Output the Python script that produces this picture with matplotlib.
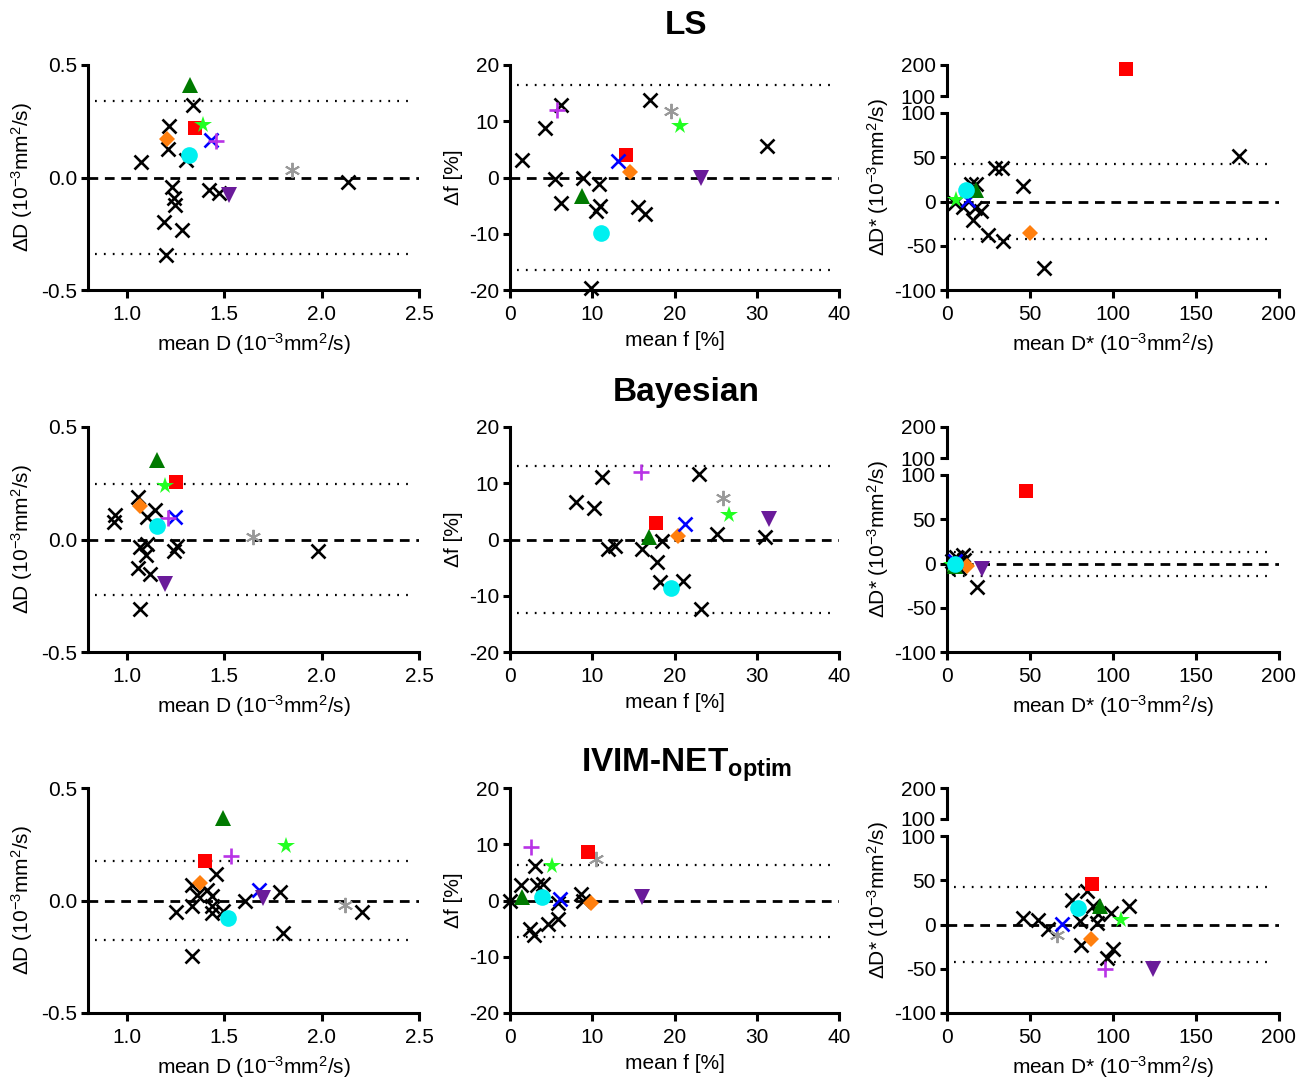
import numpy as np
import matplotlib
matplotlib.use('Agg')
import matplotlib.pyplot as plt

plt.rcParams['font.family'] = ['Liberation Sans', 'DejaVu Sans']
plt.rcParams['mathtext.fontset'] = 'custom'
plt.rcParams['mathtext.rm'] = 'Liberation Sans'
plt.rcParams['mathtext.it'] = 'Liberation Sans:italic'
plt.rcParams['mathtext.bf'] = 'Liberation Sans:bold'
plt.rcParams['axes.unicode_minus'] = False

# ---------------- DATA ----------------
# Special (coloured) subjects order:
# red square, green triangle, lime star, orange diamond, blue x, violet plus, cyan circle, grey asterisk, purple triangle-down
NAN = np.nan

# LS
LS_D_MEAN = [1.340, 1.215, 1.209, 1.301, 1.074, 2.134, 1.232, 1.240, 1.249, 1.421, 1.472, 1.189, 1.283, 1.203]
LS_D_DIFF = [0.322, 0.229, 0.125, 0.080, 0.070, -0.019, -0.042, -0.093, -0.123, -0.056, -0.071, -0.197, -0.234, -0.346]
LS_D_SP_MEAN = [1.352, 1.323, 1.392, 1.206, 1.430, 1.455, 1.318, 1.850, 1.524]
LS_D_SP_DIFF = [0.221, 0.411, 0.233, 0.169, 0.166, 0.163, 0.102, 0.033, -0.079]
LS_D_BIAS, LS_D_LOA = 0.0, 0.34

LS_F_MEAN = [6.26, 4.24, 1.41, 16.97, 31.3, 5.45, 8.9, 10.8, 6.2, 10.9, 10.5, 15.6, 16.4, 9.9]
LS_F_DIFF = [12.9, 8.8, 3.1, 13.7, 5.65, -0.3, 0.0, -1.2, -4.5, -5.1, -6.0, -5.2, -6.4, -19.6]
LS_F_SP_MEAN = [14.1, 8.8, 20.7, 14.6, 13.1, 5.74, 11.1, 19.6, 23.2]
LS_F_SP_DIFF = [4.0, -3.3, 9.1, 1.0, 3.0, 12.0, -9.8, 11.8, -0.1]
LS_F_BIAS, LS_F_LOA = 0.0, 16.5

LS_DS_MEAN = [176.0, 29.0, 33.0, 45.9, 14.7, 17.7, 4.6, 9.7, 16.7, 20.7, 15.7, 24.7, 33.8, 58.3]
LS_DS_DIFF = [51.0, 38.0, 38.0, 17.0, 20.0, 20.0, -2.0, -6.0, -7.5, -11.0, -21.0, -38.0, -44.5, -75.5]
LS_DS_SP_MEAN = [107.6, 17.7, 5.6, 50.3, 12.7, NAN, 11.7, NAN, NAN]
LS_DS_SP_DIFF = [187.0, 13.0, 2.0, -36.0, 2.0, NAN, 13.2, NAN, NAN]
LS_DS_BIAS, LS_DS_LOA = 0.0, 42.5

# Bayesian
BA_D_MEAN = [1.055, 1.146, 1.103, 0.940, 0.931, 1.979, 1.065, 1.103, 1.100, 1.258, 1.241, 1.055, 1.117, 1.069]
BA_D_DIFF = [0.188, 0.129, 0.099, 0.111, 0.077, -0.052, -0.034, -0.019, -0.071, -0.030, -0.052, -0.128, -0.153, -0.309]
BA_D_SP_MEAN = [1.254, 1.155, 1.198, 1.065, 1.249, 1.210, 1.155, 1.648, 1.198]
BA_D_SP_DIFF = [0.255, 0.352, 0.237, 0.151, 0.099, 0.096, 0.059, 0.010, -0.197]
BA_D_BIAS, BA_D_LOA = 0.0, 0.247

BA_F_MEAN = [11.2, 23.0, 8.0, 10.2, 25.2, 31.0, 11.9, 12.8, 16.0, 18.5, 17.9, 18.2, 21.0, 23.2]
BA_F_DIFF = [11.1, 11.7, 6.6, 5.6, 1.0, 0.4, -1.7, -1.2, -1.7, -0.3, -4.0, -7.6, -7.4, -12.3]
BA_F_SP_MEAN = [17.7, 16.9, 26.6, 20.4, 21.3, 15.9, 19.6, 25.9, 31.5]
BA_F_SP_DIFF = [3.0, 0.5, 4.4, 0.7, 2.8, 12.0, -8.6, 7.4, 3.7]
BA_F_BIAS, BA_F_LOA = 0.0, 13.0

BA_DS_MEAN = [3.0, 5.6, 9.7, 6.0, 8.0, 4.0, 10.0, 7.0, 5.0, 18.1]
BA_DS_DIFF = [3.0, 7.5, 9.4, -3.0, 2.0, -2.0, 4.0, -5.0, 1.0, -26.3]
BA_DS_SP_MEAN = [47.3, 5.0, 3.0, 12.1, 5.0, NAN, 4.6, NAN, 21.1]
BA_DS_SP_DIFF = [81.6, -3.0, -2.0, -2.6, 3.0, NAN, 0.0, NAN, -6.4]
BA_DS_BIAS, BA_DS_LOA = -0.3, 13.5

# IVIM-NET optim
NN_D_MEAN = [1.459, 1.332, 1.412, 1.438, 1.361, 1.335, 1.253, 1.438, 1.435, 1.493, 1.606, 1.785, 2.208, 1.799, 1.332]
NN_D_DIFF = [0.119, 0.070, 0.047, 0.018, 0.025, -0.024, -0.053, -0.024, -0.056, -0.045, 0.0, 0.040, -0.052, -0.145, -0.245]
NN_D_SP_MEAN = [1.399, 1.493, 1.816, 1.373, 1.679, 1.536, 1.519, 2.120, 1.701]
NN_D_SP_DIFF = [0.177, 0.367, 0.243, 0.077, 0.045, 0.196, -0.076, -0.019, 0.010]
NN_D_BIAS, NN_D_LOA = 0.0, 0.174

NN_F_MEAN = [3.04, 1.34, 3.24, 4.05, 0.0, 5.79, 8.6, 8.9, 5.87, 4.66, 2.43, 2.96]
NN_F_DIFF = [6.1, 2.7, 2.7, 2.9, 0.0, -0.5, 1.2, -0.1, -3.3, -4.2, -5.1, -6.1]
NN_F_SP_MEAN = [9.43, 1.42, 5.06, 9.9, 6.07, 2.55, 3.93, 10.4, 16.1]
NN_F_SP_DIFF = [8.6, 0.7, 6.1, -0.5, 0.3, 9.5, 0.7, 7.3, 0.6]
NN_F_BIAS, NN_F_LOA = 0.0, 6.4

NN_DS_MEAN = [84.5, 75.1, 88.1, 109.9, 98.6, 91.1, 45.9, 54.9, 61.0, 80.1, 90.5, 80.5, 100.2, 96.6]
NN_DS_DIFF = [37.6, 28.2, 20.7, 20.7, 13.2, 11.3, 7.5, 5.6, -5.6, 3.8, 1.9, -22.6, -28.2, -37.6]
NN_DS_SP_MEAN = [87.5, 92.2, 104.6, 86.7, 69.0, 95.2, 79.1, 66.0, 124.3]
NN_DS_SP_DIFF = [46.2, 20.7, 5.6, -16.2, 1.1, -50.0, 18.8, -12.4, -50.8]
NN_DS_BIAS, NN_DS_LOA = 0.0, 42.5

ROW_TITLES = ['LS', 'Bayesian', r'IVIM-NET$_{\mathbf{optim}}$']
D_TICKS = [1.0, 1.5, 2.0, 2.5]
D_YTICKS = [-0.5, 0.0, 0.5]
F_TICKS = [0, 10, 20, 30, 40]
F_YTICKS = [-20, -10, 0, 10, 20]
DS_XTICKS = [0, 50, 100, 150, 200]
DS_YTICKS = [-100, -50, 0, 50, 100]

# ---------------- STYLE ----------------
SP_STYLE = [
    dict(marker='s', color='#FF0000', ms=10, mew=0),
    dict(marker='^', color='#007A00', ms=11, mew=0),
    dict(marker='*', color='#22FF22', ms=13, mew=0),
    dict(marker='D', color='#FF7F0E', ms=8, mew=0),
    dict(marker='x', color='#0000FF', ms=10.5, mew=1.9),
    dict(marker='+', color='#B833E6', ms=12, mew=1.9),
    dict(marker='o', color='#00F0F0', ms=12, mew=0),
    dict(marker=(6, 2, 0), color='#999999', ms=11, mew=1.4),
    dict(marker='v', color='#6A1B9A', ms=11, mew=0),
]
DRAW_ORDER = [7, 0, 2, 3, 4, 5, 1, 8, 6]

W, H = 1309, 1078
fig = plt.figure(figsize=(W / 100, H / 100), dpi=100)

COLS = [(88, 419), (510, 839), (947, 1279)]
ROWS = [(65, 290), (427, 652), (788, 1013)]
TITLE_Y = [25, 392, 765]

LW = 2.2
TICK_FS = 15
LAB_FS = 15


def rect(l, r, t, b):
    return [l / W, 1 - b / H, (r - l) / W, (b - t) / H]


def style(ax):
    for s in ['top', 'right']:
        ax.spines[s].set_visible(False)
    for s in ['left', 'bottom']:
        ax.spines[s].set_linewidth(LW)
    ax.tick_params(width=LW, length=5, labelsize=TICK_FS, direction='out', pad=3)
    ax.tick_params(axis='x', length=6, pad=5)


def lines(ax, bias, loa):
    ax.axhline(bias, color='black', lw=2.0, ls=(0, (3.5, 2.4)), xmin=0.0, xmax=1.0, zorder=1)
    ax.axhline(bias + loa, color='black', lw=1.6, ls=(0, (0.8, 3.2)), xmin=0.02, xmax=0.98, zorder=1)
    ax.axhline(bias - loa, color='black', lw=1.6, ls=(0, (0.8, 3.2)), xmin=0.02, xmax=0.98, zorder=1)


def points(ax, xm, yd, spx, spy, ylim=None):
    xm = np.asarray(xm, float)
    yd = np.asarray(yd, float)
    ax.plot(xm, yd, ls='none', marker='x', color='black', ms=10.5, mew=1.9, clip_on=False, zorder=3)
    for i in DRAW_ORDER:
        x, y = spx[i], spy[i]
        if np.isnan(x) or np.isnan(y):
            continue
        if ylim is not None and not (ylim[0] <= y <= ylim[1]):
            continue
        st = SP_STYLE[i]
        ax.plot([x], [y], ls='none', marker=st['marker'], color=st['color'], ms=st['ms'],
                mew=st['mew'], clip_on=False, zorder=4)


D_LAB_X = 'mean D (10$^{-3}$mm$^{2}$/s)'
D_LAB_Y = '\u0394D (10$^{-3}$mm$^{2}$/s)'
F_LAB_X = 'mean f [%]'
F_LAB_Y = '\u0394f [%]'
DS_LAB_X = 'mean D* (10$^{-3}$mm$^{2}$/s)'
DS_LAB_Y = '\u0394D* (10$^{-3}$mm$^{2}$/s)'

D_DATA = [(LS_D_MEAN, LS_D_DIFF, LS_D_SP_MEAN, LS_D_SP_DIFF, LS_D_BIAS, LS_D_LOA),
          (BA_D_MEAN, BA_D_DIFF, BA_D_SP_MEAN, BA_D_SP_DIFF, BA_D_BIAS, BA_D_LOA),
          (NN_D_MEAN, NN_D_DIFF, NN_D_SP_MEAN, NN_D_SP_DIFF, NN_D_BIAS, NN_D_LOA)]
F_DATA = [(LS_F_MEAN, LS_F_DIFF, LS_F_SP_MEAN, LS_F_SP_DIFF, LS_F_BIAS, LS_F_LOA),
          (BA_F_MEAN, BA_F_DIFF, BA_F_SP_MEAN, BA_F_SP_DIFF, BA_F_BIAS, BA_F_LOA),
          (NN_F_MEAN, NN_F_DIFF, NN_F_SP_MEAN, NN_F_SP_DIFF, NN_F_BIAS, NN_F_LOA)]
DS_DATA = [(LS_DS_MEAN, LS_DS_DIFF, LS_DS_SP_MEAN, LS_DS_SP_DIFF, LS_DS_BIAS, LS_DS_LOA),
           (BA_DS_MEAN, BA_DS_DIFF, BA_DS_SP_MEAN, BA_DS_SP_DIFF, BA_DS_BIAS, BA_DS_LOA),
           (NN_DS_MEAN, NN_DS_DIFF, NN_DS_SP_MEAN, NN_DS_SP_DIFF, NN_DS_BIAS, NN_DS_LOA)]

for r, (top, bot) in enumerate(ROWS):
    fig.text(686 / W, 1 - TITLE_Y[r] / H, ROW_TITLES[r], fontsize=24, fontweight='bold',
             ha='center', va='center')

    # D panel
    xm, yd, spx, spy, bias, loa = D_DATA[r]
    ax = fig.add_axes(rect(COLS[0][0], COLS[0][1], top, bot))
    style(ax)
    ax.set_xlim(0.8, 2.5)
    ax.set_ylim(-0.5, 0.5)
    ax.set_xticks(D_TICKS)
    ax.set_xticklabels([f'{v:.1f}' for v in D_TICKS])
    ax.set_yticks(D_YTICKS)
    ax.set_yticklabels([f'{v:.1f}' for v in D_YTICKS])
    lines(ax, bias, loa)
    points(ax, xm, yd, spx, spy)
    ax.set_xlabel(D_LAB_X, fontsize=LAB_FS, labelpad=5)
    ax.set_ylabel(D_LAB_Y, fontsize=LAB_FS, labelpad=4)

    # f panel
    xm, yd, spx, spy, bias, loa = F_DATA[r]
    ax = fig.add_axes(rect(COLS[1][0], COLS[1][1], top, bot))
    style(ax)
    ax.set_xlim(0, 40)
    ax.set_ylim(-20, 20)
    ax.set_xticks(F_TICKS)
    ax.set_yticks(F_YTICKS)
    lines(ax, bias, loa)
    points(ax, xm, yd, spx, spy)
    ax.set_xlabel(F_LAB_X, fontsize=LAB_FS, labelpad=5)
    ax.set_ylabel(F_LAB_Y, fontsize=LAB_FS, labelpad=4)

    # D* panel (broken axis)
    xm, yd, spx, spy, bias, loa = DS_DATA[r]
    axu = fig.add_axes(rect(COLS[2][0], COLS[2][1], top, top + 31))
    axl = fig.add_axes(rect(COLS[2][0], COLS[2][1], top + 48, bot))
    style(axl)
    style(axu)
    axu.spines['bottom'].set_visible(False)
    axu.set_xlim(0, 200)
    axu.set_ylim(100, 200)
    axu.set_yticks([100, 200])
    axu.set_xticks([])
    axu.patch.set_alpha(0)
    axl.set_xlim(0, 200)
    axl.set_ylim(-100, 100)
    axl.set_xticks(DS_XTICKS)
    axl.set_yticks(DS_YTICKS)
    lines(axl, bias, loa)
    points(axl, xm, yd, spx, spy, ylim=(-100, 100))
    points(axu, [], [], spx, spy, ylim=(100.001, 200))
    axl.set_xlabel(DS_LAB_X, fontsize=LAB_FS, labelpad=5)
    axl.set_ylabel(DS_LAB_Y, fontsize=LAB_FS)
    axl.yaxis.set_label_coords(-0.17, 0.636)

fig.savefig('out.png', dpi=100)
